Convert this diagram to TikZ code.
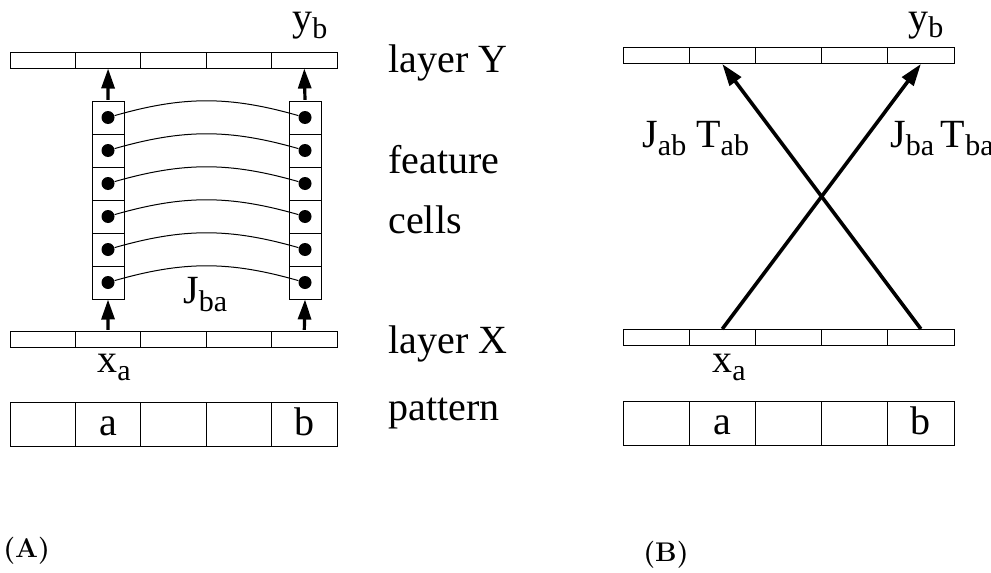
\documentclass[tikz,border=0pt]{standalone}
\usepackage{fontspec}
\newfontfamily\timesfont{Liberation Serif}
\usetikzlibrary{arrows.meta}
\newcommand\sub[1]{\raisebox{-4pt}{\fontsize{15pt}{15pt}\selectfont #1}}
\begin{document}
\begin{tikzpicture}[
  x=0.5pt,
  y=-0.5pt,
  slotA/.style={draw, line width=0.5pt, inner sep=0pt, minimum width=32.7pt, minimum height=8pt},
  slotB/.style={draw, line width=0.5pt, inner sep=0pt, minimum width=33.1pt, minimum height=8pt},
  patA/.style={slotA, minimum height=22pt, font=\timesfont\fontsize{20pt}{24pt}\selectfont, text height=11pt, text depth=0pt},
  patB/.style={patA, minimum width=33.1pt},
  feat/.style={draw, line width=0.5pt, inner sep=0pt, minimum width=16pt, minimum height=16.5pt},
  dot/.style={circle, fill, inner sep=0pt, minimum size=6.5pt},
  link/.style={line width=0.5pt},
  feed/.style={-{Triangle[length=10pt, width=6.5pt]}, line width=1.6pt, shorten <=0.3pt},
  cross/.style={-{Triangle[length=11pt, width=7pt]}, line width=1.8pt},
  lbl/.style={anchor=base west, inner sep=0pt, font=\timesfont\fontsize{20pt}{24pt}\selectfont},
  tag/.style={anchor=base west, inner sep=0pt, font=\fontsize{13.5pt}{16pt}\selectfont\bfseries}
]
\useasboundingbox (0,0) rectangle (991,573);

% (A) layers and pattern
\foreach \i/\t in {1/,2/a,3/,4/,5/b} {
  \node[slotA] (ly\i) at ({10+65.4*(\i-0.5)},60) {};
  \node[slotA] (lx\i) at ({10+65.4*(\i-0.5)},339) {};
  \node[patA] (lp\i) at ({10+65.4*(\i-0.5)},424) {\t};
}

% feature cells with lateral links
\foreach \j in {1,...,6} {
  \node[feat] (fa\j) at (108,{117.5+33*(\j-1)}) {};
  \node[feat] (fb\j) at (305,{117.5+33*(\j-1)}) {};
  \node[dot] (da\j) at (fa\j) {};
  \node[dot] (db\j) at (fb\j) {};
  \draw[link] (da\j) to[bend left=16] (db\j);
}

\draw[feed] (fa1.north) -- (ly2.south);
\draw[feed] (fb1.north) -- (ly5.south);
\draw[feed] (lx2.north) -- (fa6.south);
\draw[feed] (lx5.north) -- (fb6.south);

\node[lbl] (ybA) at (292,31) {y\sub{b}};
\node[lbl] (xaA) at (97,372) {x\sub{a}};
\node[lbl] (jba) at (183,303) {J\sub{ba}};

\node[lbl] (layerY) at (388,72) {layer Y};
\node[lbl] (featurel) at (388,173) {feature};
\node[lbl] (cellsl) at (388,233) {cells};
\node[lbl] (layerX) at (388,353) {layer X};
\node[lbl] (patternl) at (388,420) {pattern};

% (B) layers and pattern
\foreach \i/\t in {1/,2/a,3/,4/,5/b} {
  \node[slotB] (ry\i) at ({623+66.2*(\i-0.5)},55.5) {};
  \node[slotB] (rx\i) at ({623+66.2*(\i-0.5)},337.5) {};
  \node[patB] (rp\i) at ({623+66.2*(\i-0.5)},423) {\t};
}

\draw[cross] (rx2.north) -- (ry5.south);
\draw[cross] (rx5.north) -- (ry2.south);

\node[lbl] (ybB) at (908,30) {y\sub{b}};
\node[lbl] (xaB) at (712,372) {x\sub{a}};
\node[lbl] (jtab) at (642,147) {J\sub{ab} T\sub{ab}};
\node[lbl] (jtba) at (890,147) {J\sub{ba}\,T\sub{ba}};

\node[tag] (capA) at (3,557) {(A)};
\node[tag] (capB) at (643,561) {(B)};

\end{tikzpicture}
\end{document}
